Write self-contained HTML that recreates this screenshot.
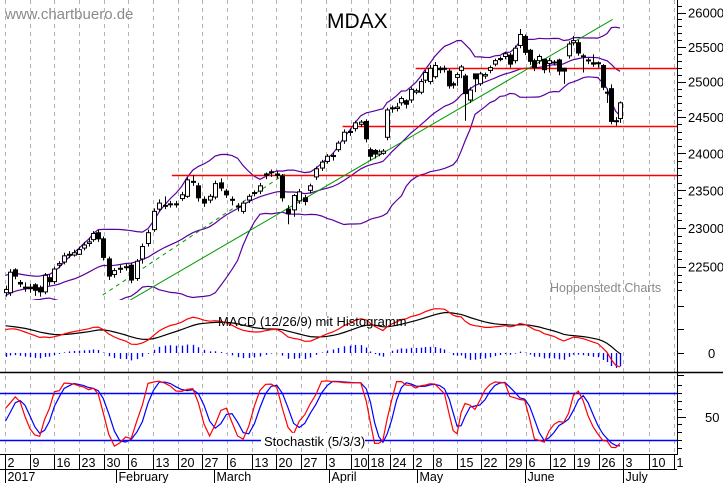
<!DOCTYPE html>
<html><head><meta charset="utf-8"><style>
html,body{margin:0;padding:0;background:#fff}
svg{display:block;font-family:"Liberation Sans",sans-serif}
</style></head><body>
<svg id="chart" width="723" height="483" viewBox="0 0 723 483" xmlns="http://www.w3.org/2000/svg">
<defs>
<clipPath id="cp"><rect x="0" y="0" width="677" height="300"/></clipPath>
<clipPath id="cm"><rect x="0" y="300" width="677" height="72"/></clipPath>
<clipPath id="cs"><rect x="0" y="373" width="677" height="81"/></clipPath>
</defs>
<rect x="0" y="0" width="723" height="483" fill="#fff"/>
<g id="grid"></g>
<g id="price" clip-path="url(#cp)"></g>
<g id="macd" clip-path="url(#cm)"></g>
<g id="stoch" clip-path="url(#cs)"></g>
<g id="axes"></g>
<text x="5" y="19" font-size="15" fill="#8a8a8a">www.chartbuero.de</text>
<text x="327" y="28" font-size="21" fill="#000">MDAX</text>
<text x="550" y="292" font-size="12.5" fill="#8a8a8a">Hoppenstedt Charts</text>
</svg>
<script>
const preCloses=[21050,21100,21000,21150,21300,21250,21400,21500,21600,21650,21750,21800,21900,21950,22000,22050,22100,22150,22100,22200,22250,22200,22150,22250,22300,22250,22200,22150,22250,22200];
const opens=[22170,22170,22460,22300,22230,22240,22270,22230,22180,22360,22310,22520,22560,22650,22650,22660,22740,22800,22850,22940,22860,
22600,22400,22470,22500,22520,22350,22600,22800,22980,23250,23290,23310,23320,23390,23420,23620,23560,23380,23370,23410,
23600,23490,23380,23290,23220,23370,23460,23490,23720,23750,23720,23690,23250,23240,23360,23400,23500,23680,23800,23890,23960,24050,24170,
24290,24340,24400,24440,24050,24040,23990,24000,24220,24620,24620,24700,24730,24740,24850,24850,25020,25000,
25070,25190,25190,25150,24970,25060,25160,25080,24740,25110,24970,25080,25160,25250,25330,25360,25380,25300,25520,
25650,25450,25300,25300,25320,25260,25280,25310,25190,25370,25560,25560,25370,25310,25270,25270,25230,24850,24900,24450,24480];
const closes=[22210,22430,22380,22280,22240,22220,22200,22180,22390,22310,22470,22540,22640,22660,22680,22720,22780,22820,22930,22860,22620,
22380,22450,22480,22500,22330,22570,22760,22940,23220,23330,23300,23320,23310,23440,23640,23610,23400,23330,23420,23590,
23530,23440,23370,23280,23330,23420,23470,23560,23700,23740,23700,23400,23190,23430,23480,23350,23560,23790,23880,23960,23970,24140,24290,
24300,24420,24430,24200,23960,23990,24020,24030,24600,24630,24640,24760,24680,24890,24870,25000,25130,25190,
25230,25170,25190,24940,24950,25100,25210,24830,24880,25040,25110,25100,25200,25300,25330,25400,25250,25480,25680,
25420,25290,25200,25360,25170,25300,25280,25150,25150,25540,25590,25410,25360,25300,25250,25260,24920,24840,24440,24440,24700];
const highs=[22260,22470,22480,22330,22300,22280,22290,22260,22420,22400,22500,22570,22680,22700,22720,22760,22820,22870,22960,22980,22890,
22630,22480,22520,22540,22550,22600,22800,22980,23260,23380,23420,23360,23360,23480,23670,23700,23600,23420,23450,23630,
23660,23520,23420,23330,23360,23450,23500,23600,23740,23780,23760,23720,23300,23450,23520,23440,23590,23820,23910,23990,24010,24170,24330,
24340,24450,24460,24470,24080,24060,24050,24060,24630,24660,24700,24790,24750,24920,24900,25040,25160,25240,
25280,25220,25230,25180,25000,25130,25240,25110,24920,25080,25140,25130,25230,25330,25360,25430,25410,25520,25760,
25680,25470,25330,25390,25330,25340,25310,25330,25200,25580,25660,25600,25400,25340,25390,25290,25250,24900,24960,24500,24720];
const lows=[22120,22130,22340,22240,22180,22170,22130,22120,22150,22260,22280,22480,22530,22610,22630,22650,22710,22760,22820,22820,22580,
22330,22360,22420,22450,22290,22320,22540,22760,22950,23220,23250,23270,23270,23360,23400,23560,23350,23280,23330,23380,
23490,23400,23300,23220,23190,23330,23420,23450,23650,23680,23660,23350,23050,23150,23320,23300,23460,23640,23760,23860,23900,24020,24130,
24240,24300,24360,24150,23900,23930,23960,23980,24180,24560,24580,24660,24620,24700,24820,24820,24980,24960,
25040,25120,25130,24900,24900,24940,25050,24450,24700,24850,24940,25040,25120,25220,25290,25320,25200,25260,25480,
25380,25240,25150,25250,25120,25130,25230,25090,24970,25330,25520,25370,25130,25250,25210,25200,24880,24700,24400,24380,24420];
const anchorCandle=[0,20,52,67,72,85,89,100,117,121];
const anchorDay=[0,19.8,56.1,73.1,77.3,89.9,93.1,104.2,121.0,124.5];
const priceTicks=[26000,25500,25000,24500,24000,23500,23000,22500];
const hLevels=[23710,24370,25200];
const hLevelStartDay=[33.8,68.4,83.2];
const trendStartDay=[24.9,19.8];
const trendStartVal=[22060,22140];
const trendEndDay=[123.1,56.7];
const trendEndVal=[25900,23720];
const trendDashed=[false,true];
const weekLabels=["2","9","16","23","30","6","13","20","27","6","13","20","27","3","10","18","24","2","8","15","22","29","6","12","19","26","3","10","1"];
const weekPos=[0,5,10,15,20,25,30,35,40,45,50,55,60,65,70,73.6,77.9,82.6,86.7,91.6,96.5,101.6,105.6,110.5,115.3,120.4,125.3,130.4,135.5];
const monthLabels=["2017","February","March","April","May","June","July"];
const monthPos=[0,22.4,42.4,65.7,83.4,105.4,125.3];

const NS="http://www.w3.org/2000/svg";
function mk(parent,tag,attrs){const e=document.createElementNS(NS,tag);for(const k in attrs)e.setAttribute(k,attrs[k]);parent.appendChild(e);return e;}
const n=closes.length;
const wstep=(622-5)/125;
function xDay(d){return 5+d*wstep;}
function dayOf(i){for(let k=1;k<anchorCandle.length;k++){if(i<=anchorCandle[k]||k===anchorCandle.length-1){const a=anchorCandle[k-1],b=anchorCandle[k];return anchorDay[k-1]+(i-a)*(anchorDay[k]-anchorDay[k-1])/(b-a);}}return i;}
function xOf(i){return xDay(dayOf(i))+0.5;}
function yP(v){return 12.7+(Math.log(26000)-Math.log(v))*1757;}
function yM(v){return 353-v*0.12;}
function yS(v){return 416.5-(v-50)*0.783;}

const grid=document.getElementById('grid');
const price=document.getElementById('price');
const macdG=document.getElementById('macd');
const stG=document.getElementById('stoch');
const axes=document.getElementById('axes');

weekPos.forEach((d,k)=>{const x=Math.round(xDay(d))+0.5;if(x>676)return;
 const l=mk(grid,'line',{x1:x,y1:0,x2:x,y2:454,stroke:'#b4b4b4','stroke-dasharray':'4,4','stroke-width':1});
 
 
});

const all=preCloses.concat(closes);
const P=preCloses.length;
const bbU=[],bbM=[],bbL=[];
for(let i=0;i<n;i++){const j=i+P;const w=all.slice(j-19,j+1);const m=w.reduce((a,b)=>a+b,0)/w.length;const sd=Math.sqrt(w.reduce((a,b)=>a+(b-m)*(b-m),0)/w.length);bbM.push(m);bbU.push(m+2*sd);bbL.push(m-2*sd);}
function pathOf(arr,yf){return arr.map((v,i)=>(i?'L':'M')+xOf(i).toFixed(1)+','+yf(v).toFixed(1)).join('');}
[['bollinger-upper',bbU],['bollinger-middle',bbM],['bollinger-lower',bbL]].forEach(([nm,a])=>{
 const p=mk(price,'path',{d:pathOf(a,yP),fill:'none',stroke:'#5a00a0','stroke-width':1.2});
 
 
});
hLevels.forEach((v,k)=>{const y=Math.round(yP(v))+0.5;
 const l=mk(price,'line',{x1:xDay(hLevelStartDay[k]),y1:y,x2:677,y2:y,stroke:'#ff0000','stroke-width':1.5});
 
 
});
trendStartDay.forEach((s,k)=>{
 const a={x1:xDay(s),y1:yP(trendStartVal[k]),x2:xDay(trendEndDay[k]),y2:yP(trendEndVal[k]),stroke:'#009a00','stroke-width':1};
 if(trendDashed[k])a['stroke-dasharray']='4,4';
 const l=mk(price,'line',a);
 
 
});
for(let i=0;i<n;i++){const x=Math.round(xOf(i))+0.5;const o=opens[i],c=closes[i];
 const g=mk(price,'g',{});
 
 
 mk(g,'line',{x1:x,y1:yP(highs[i]),x2:x,y2:yP(lows[i]),stroke:'#000','stroke-width':1});
 const top=yP(Math.max(o,c)),bot=yP(Math.min(o,c));
 mk(g,'rect',{x:x-2,y:top,width:4,height:Math.max(1,bot-top),fill:c>=o?'#fff':'#000',stroke:'#000','stroke-width':1});
}
function ema(arr,p){const k=2/(p+1);const out=[];let e=arr[0];arr.forEach((v,i)=>{e=i?v*k+e*(1-k):v;out.push(e);});return out;}
const e12=ema(all,12),e26=ema(all,26);
const macdAll=e12.map((v,i)=>v-e26[i]);
const sigAll=ema(macdAll,9);
const macd=macdAll.slice(P),sig=sigAll.slice(P);
for(let i=0;i<n;i++){const h=macd[i]-sig[i];const x=Math.round(xOf(i))+0.5;
 const b=mk(macdG,'line',{x1:x,y1:yM(0),x2:x,y2:353-h*0.12,stroke:'#0000ff','stroke-width':1.3});
 
 
}
let p1=mk(macdG,'path',{d:pathOf(sig,yM),fill:'none',stroke:'#000','stroke-width':1.2});


p1=mk(macdG,'path',{d:pathOf(macd,yM),fill:'none',stroke:'#ff0000','stroke-width':1.2});


let t=mk(axes,'text',{x:218,y:326,'font-size':13,fill:'#000'});t.textContent='MACD (12/26/9) mit Histogramm';



const allH=preCloses.concat(highs),allL=preCloses.concat(lows);
const raw=[];for(let j=0;j<all.length;j++){const s=Math.max(0,j-4);let hh=-1e9,ll=1e9;for(let q=s;q<=j;q++){hh=Math.max(hh,allH[q]);ll=Math.min(ll,allL[q]);}raw.push(hh>ll?(all[j]-ll)/(hh-ll)*100:50);}
function sma(a,p){return a.map((v,i)=>{const w=a.slice(Math.max(0,i-p+1),i+1);return w.reduce((x,y)=>x+y,0)/w.length;});}
const kAll=sma(raw,3),dAll=sma(kAll,3);
const kS=kAll.slice(P),dS=dAll.slice(P);
[80,20].forEach(v=>{const y=Math.round(yS(v))+0.5;const l=mk(stG,'line',{x1:0,y1:y,x2:677,y2:y,stroke:'#0000ff','stroke-width':1.5});
 
 
});
p1=mk(stG,'path',{d:pathOf(dS,yS),fill:'none',stroke:'#0000ff','stroke-width':1.2});


p1=mk(stG,'path',{d:pathOf(kS,yS),fill:'none',stroke:'#ff0000','stroke-width':1.2});


let bg=mk(axes,'rect',{x:261,y:433,width:104,height:15,fill:'#fff'});


t=mk(axes,'text',{x:264,y:446,'font-size':13,fill:'#000'});t.textContent='Stochastik (5/3/3)';



function line(x1,y1,x2,y2,nm,w){const l=mk(axes,'line',{x1,y1,x2,y2,stroke:'#000','stroke-width':w||1});return l;}
line(677.5,0,677.5,455,'right-axis');
line(0,372.5,723,372.5,'panel-separator',1.5);
line(0,454.5,677,454.5,'date-axis-line');
line(0,469.5,677,469.5,'month-row-line');
for(let v=22200;v<=26100;v+=100){const y=Math.round(yP(v))+0.5;line(677,y,v%500===0?686:682,y,'price-tick');}
priceTicks.forEach(v=>{const tx=mk(axes,'text',{x:688,y:yP(v)+5,'font-size':13,fill:'#000'});tx.textContent=v;
 
 });
[306,329,353,375].forEach(y=>line(677,y+0.5,684,y+0.5,'macd-tick'));
t=mk(axes,'text',{x:708,y:358,'font-size':13,fill:'#000'});t.textContent='0';


[90,80,70,60,50,40,30,20,10].forEach(v=>{const y=Math.round(yS(v))+0.5;line(677,y,v===50?686:682,y,'stoch-tick');});
t=mk(axes,'text',{x:705,y:422,'font-size':13,fill:'#000'});t.textContent='50';


weekPos.forEach((d,k)=>{const x=Math.round(xDay(d))+0.5;if(x>677)return;
 line(x,454,x,469,'week-tick');
 const tx=mk(axes,'text',{x:x+2,y:467,'font-size':12.5,fill:'#000'});tx.textContent=weekLabels[k];
 
 
});
monthPos.forEach((d,k)=>{const x=Math.round(xDay(d))+0.5;
 line(x,469,x,483,'month-tick');
 const tx=mk(axes,'text',{x:x+2,y:481,'font-size':12.5,fill:'#000'});tx.textContent=monthLabels[k];
 
 
});
</script>
</body></html>
